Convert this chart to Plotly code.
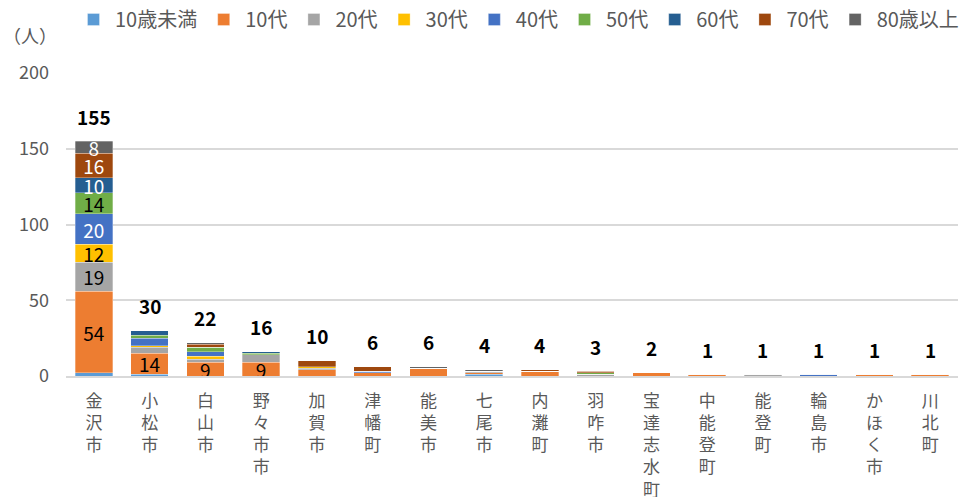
import plotly.graph_objects as go

cities = ["金沢市", "小松市", "白山市", "野々市市", "加賀市", "津幡町", "能美市", "七尾市",
          "内灘町", "羽咋市", "宝達志水町", "中能登町", "能登町", "輪島市", "かほく市", "川北町"]

age_groups = ["10歳未満", "10代", "20代", "30代", "40代", "50代", "60代", "70代", "80歳以上"]

under10   = [2, 1, 0, 0, 0, 0, 0, 1, 0, 0, 0, 0, 0, 0, 0, 0]
teens     = [54, 14, 9, 9, 4, 2, 5, 1, 3, 0, 2, 1, 0, 0, 1, 1]
twenties  = [19, 4, 2, 5, 1, 0, 0, 1, 0, 1, 0, 0, 1, 0, 0, 0]
thirties  = [12, 1, 2, 0, 1, 0, 0, 0, 0, 0, 0, 0, 0, 0, 0, 0]
forties   = [20, 5, 3, 0, 0, 1, 0, 0, 0, 0, 0, 0, 0, 1, 0, 0]
fifties   = [14, 2, 3, 1, 0, 0, 0, 0, 0, 1, 0, 0, 0, 0, 0, 0]
sixties   = [10, 3, 0, 1, 0, 0, 0, 0, 0, 0, 0, 0, 0, 0, 0, 0]
seventies = [16, 0, 2, 0, 4, 3, 0, 0, 1, 1, 0, 0, 0, 0, 0, 0]
eighties  = [8, 0, 1, 0, 0, 0, 1, 1, 0, 0, 0, 0, 0, 0, 0, 0]

series = [under10, teens, twenties, thirties, forties, fifties, sixties, seventies, eighties]
colors = ["#5B9BD5", "#ED7D31", "#A5A5A5", "#FFC000", "#4472C4",
          "#70AD47", "#255E91", "#9E480E", "#636363"]
label_colors = ["black", "black", "black", "black", "white", "black", "white", "white", "white"]

# which (series, city) segments carry a value label
labeled = {1: [0, 1, 2, 3], 2: [0], 3: [0], 4: [0], 5: [0], 6: [0], 7: [0], 8: [0]}

totals = [sum(s[i] for s in series) for i in range(len(cities))]
tick_text = ["<br>".join(list(c)) for c in cities]

FONT = "Noto Sans CJK JP"
GREY = "#595959"

fig = go.Figure()
for k, (name, vals, col) in enumerate(zip(age_groups, series, colors)):
    txt = [str(v) if i in labeled.get(k, []) else "" for i, v in enumerate(vals)]
    fig.add_trace(go.Bar(
        x=cities, y=vals, name=name,
        marker=dict(color=col, line=dict(color="rgba(255,255,255,0.5)", width=0.6)),
        text=txt, textposition="inside", insidetextanchor="middle",
        textangle=0, constraintext="none", cliponaxis=False,
        textfont=dict(family=FONT, size=19, color=label_colors[k]),
        hoverinfo="x+y+name",
    ))

for c, t in zip(cities, totals):
    fig.add_annotation(x=c, y=t, text=f"<b>{t}</b>", showarrow=False,
                       yshift=25, font=dict(family=FONT, size=19, color="black"))

fig.add_annotation(xref="paper", yref="paper", x=-36 / 892, y=1 + 38 / 303, text="（人）",
                   showarrow=False, xanchor="center", yanchor="middle",
                   font=dict(family=FONT, size=18, color=GREY))

fig.update_layout(
    barmode="stack",
    bargap=0.33,
    width=960, height=497,
    margin=dict(l=66, r=2, t=73, b=121, autoexpand=False),
    plot_bgcolor="white", paper_bgcolor="white",
    font=dict(family=FONT, color=GREY, size=17),
    uniformtext=dict(mode="show", minsize=19),
    legend=dict(orientation="h", xref="container", yref="container",
                x=0.075, y=1.0, xanchor="left", yanchor="top",
                itemwidth=33, borderwidth=0,
                font=dict(family=FONT, size=20, color=GREY),
                traceorder="normal", itemclick=False),
    xaxis=dict(tickmode="array", tickvals=cities, ticktext=tick_text,
               tickfont=dict(family=FONT, size=17, color=GREY),
               showline=True, linecolor="#D9D9D9", linewidth=1.5,
               ticks="", showgrid=False, automargin=False, ticklabelstandoff=9),
    yaxis=dict(range=[0, 200], dtick=50, gridcolor="#D9D9D9", gridwidth=1.5,
               tickfont=dict(family=FONT, size=18, color=GREY),
               zeroline=False, ticks="", ticklabelstandoff=16, automargin=False),
)

fig.write_html("out.html", config={"displayModeBar": False},
               post_script="document.body.style.margin='0';document.body.style.overflow='hidden';")
